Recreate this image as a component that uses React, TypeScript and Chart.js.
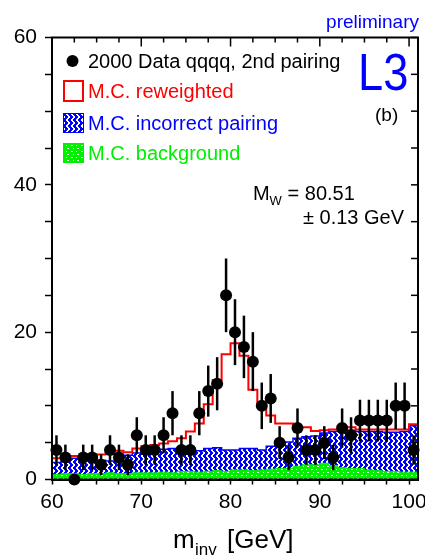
import { useEffect, useRef } from 'react';
import { Chart, registerables } from 'chart.js';

Chart.register(...registerables);

const FONT = "'Liberation Sans', Arial, Helvetica, sans-serif";

// 1 GeV bins: lower edge of each bin, and the upper limit of the last one
const binLowEdges = [
  60, 61, 62, 63, 64, 65, 66, 67, 68, 69, 70, 71, 72, 73, 74, 75, 76, 77, 78, 79,
  80, 81, 82, 83, 84, 85, 86, 87, 88, 89, 90, 91, 92, 93, 94, 95, 96, 97, 98, 99, 100,
];
const binUpperLimit = 101;

// 2000 data, qqqq channel, 2nd pairing: bin centres and event counts
const dataMass = [
  60.5, 61.5, 62.5, 63.5, 64.5, 65.5, 66.5, 67.5, 68.5, 69.5, 70.5, 71.5, 72.5, 73.5,
  74.5, 75.5, 76.5, 77.5, 78.5, 79.5, 80.5, 81.5, 82.5, 83.5, 84.5, 85.5, 86.5, 87.5,
  88.5, 89.5, 90.5, 91.5, 92.5, 93.5, 94.5, 95.5, 96.5, 97.5, 98.5, 99.5, 100.5,
];
const dataEvents = [
  4, 3, 0, 3, 3, 2, 4, 3, 2, 6, 4, 4, 6, 9, 4, 4, 9, 12, 13, 25, 20, 18, 16, 10, 11,
  5, 3, 7, 4, 4, 5, 3, 7, 6, 8, 8, 8, 8, 10, 10, 4,
];

// Monte Carlo expectations per bin (incorrect pairing is stacked on the background)
const mcReweighted = [
  2.9, 3.1, 3.2, 3.2, 3.3, 3.4, 3.6, 3.9, 3.7, 4.2, 4.5, 4.7, 4.9, 5.2, 5.6, 6.5, 7.6,
  10.2, 13.5, 17.0, 18.5, 16.8, 12.2, 10.0, 8.7, 7.6, 7.6, 7.2, 7.1, 6.6, 6.7, 6.8, 7.2,
  7.1, 6.8, 6.8, 6.8, 6.8, 6.8, 6.8, 7.5,
];
const mcIncorrectPairing = [
  2.3, 2.4, 2.9, 2.9, 2.6, 2.6, 2.5, 2.4, 3.3, 3.6, 3.9, 4.0, 4.1, 4.2, 4.0, 3.8, 3.9,
  4.2, 4.3, 4.0, 4.0, 4.2, 4.2, 4.0, 4.5, 5.0, 5.1, 5.6, 5.8, 5.9, 6.3, 6.5, 6.7, 6.7,
  6.5, 6.5, 6.5, 6.4, 6.4, 6.5, 7.3,
];
const mcBackground = [
  0.7, 0.8, 0.8, 0.7, 0.8, 0.8, 0.9, 0.8, 0.8, 0.9, 0.9, 0.9, 1.0, 0.9, 1.1, 1.1, 1.0,
  1.1, 1.2, 1.1, 1.3, 1.3, 1.2, 1.3, 1.4, 1.5, 1.5, 1.8, 2.0, 2.0, 2.2, 1.9, 1.6, 1.5,
  1.5, 1.3, 1.2, 1.1, 1.1, 1.0, 1.0,
];

// Axis ticks
const xTickValues = [60, 62.5, 65, 67.5, 70, 72.5, 75, 77.5, 80, 82.5, 85, 87.5, 90, 92.5, 95, 97.5, 100];
const xLabelValues = [60, 70, 80, 90, 100];
const yTickValues = [0, 5, 10, 15, 20, 25, 30, 35, 40, 45, 50, 55, 60];
const yLabelValues = [0, 20, 40, 60];

const legendEntries = [
  { kind: 'marker', text: '2000 Data qqqq, 2nd pairing', color: '#000000' },
  { kind: 'outline', text: 'M.C. reweighted', color: '#ff0000' },
  { kind: 'hatch', text: 'M.C. incorrect pairing', color: '#0000ff' },
  { kind: 'dots', text: 'M.C. background', color: '#00ee00' },
];

function stepPoints(values: number[]) {
  const pts = [{ x: binLowEdges[0], y: 0 }];
  values.forEach((v, i) => pts.push({ x: binLowEdges[i], y: v }));
  pts.push({ x: binUpperLimit, y: values[values.length - 1] });
  pts.push({ x: binUpperLimit, y: 0 });
  return pts;
}

// blue fill with white vertical zig-zag hatching
function makeHatch(ctx: CanvasRenderingContext2D) {
  const c = document.createElement('canvas');
  c.width = 5;
  c.height = 6;
  const g = c.getContext('2d')!;
  g.fillStyle = '#0000ff';
  g.fillRect(0, 0, 5, 6);
  g.fillStyle = '#ffffff';
  const offs = [0, 1, 2, 2, 1, 0];
  offs.forEach((o, r) => g.fillRect(o + 1, r, 2, 1));
  return ctx.createPattern(c, 'repeat')!;
}

// green fill with sparse white dashes
function makeDots(ctx: CanvasRenderingContext2D) {
  const c = document.createElement('canvas');
  c.width = 10;
  c.height = 6;
  const g = c.getContext('2d')!;
  g.fillStyle = '#00f000';
  g.fillRect(0, 0, 10, 6);
  g.fillStyle = '#ffffff';
  g.fillRect(1, 1, 2, 1);
  g.fillRect(6, 1, 1, 1);
  g.fillRect(3, 4, 1, 1);
  g.fillRect(7, 4, 2, 1);
  return ctx.createPattern(c, 'repeat')!;
}

export default function App() {
  const ref = useRef<HTMLCanvasElement>(null);

  useEffect(() => {
    document.body.style.margin = '0';
    const canvas = ref.current!;
    const ctx0 = canvas.getContext('2d')!;
    const hatch = makeHatch(ctx0);
    const dots = makeDots(ctx0);

    const errorBars = {
      id: 'errorBars',
      afterDatasetsDraw(chart: any) {
        const { ctx } = chart;
        const xs = chart.scales.x;
        const ys = chart.scales.y;
        ctx.save();
        ctx.strokeStyle = '#000';
        ctx.lineWidth = 2.5;
        dataMass.forEach((m, i) => {
          const n = dataEvents[i];
          if (n <= 0) return;
          const e = Math.sqrt(n);
          const px = xs.getPixelForValue(m);
          ctx.beginPath();
          ctx.moveTo(px, ys.getPixelForValue(n + e));
          ctx.lineTo(px, ys.getPixelForValue(Math.max(0, n - e)));
          ctx.stroke();
        });
        ctx.restore();
      },
    };

    const decorations = {
      id: 'decorations',
      afterDraw(chart: any) {
        const { ctx, chartArea: a } = chart;
        const xs = chart.scales.x;
        const ys = chart.scales.y;
        ctx.save();
        // frame
        ctx.strokeStyle = '#000';
        ctx.lineWidth = 2;
        ctx.strokeRect(a.left, a.top, a.right - a.left, a.bottom - a.top);
        // inward ticks on top and right
        ctx.lineWidth = 1.5;
        xTickValues.forEach((v) => {
          const px = xs.getPixelForValue(v);
          const len = xLabelValues.includes(v) ? 9 : 5;
          ctx.beginPath();
          ctx.moveTo(px, a.top);
          ctx.lineTo(px, a.top + len);
          ctx.stroke();
        });
        yTickValues.forEach((v) => {
          const py = ys.getPixelForValue(v);
          ctx.beginPath();
          ctx.moveTo(a.right, py);
          ctx.lineTo(a.right - 7, py);
          ctx.stroke();
        });

        // legend
        ctx.textBaseline = 'alphabetic';
        ctx.textAlign = 'left';
        ctx.font = `20px ${FONT}`;
        const baselines = [68, 98, 130, 160];
        legendEntries.forEach((en, i) => {
          const b = baselines[i];
          const cy = b - 7;
          if (en.kind === 'marker') {
            ctx.fillStyle = '#000';
            ctx.beginPath();
            ctx.arc(72.5, cy, 6, 0, Math.PI * 2);
            ctx.fill();
          } else if (en.kind === 'outline') {
            ctx.strokeStyle = en.color;
            ctx.lineWidth = 2;
            ctx.strokeRect(64, cy - 10, 19, 20);
          } else {
            ctx.fillStyle = en.kind === 'hatch' ? hatch : dots;
            ctx.fillRect(63, cy - 10, 21, 20);
            ctx.strokeStyle = en.color;
            ctx.lineWidth = 1;
            ctx.strokeRect(63.5, cy - 9.5, 20, 19);
          }
          ctx.fillStyle = en.color;
          ctx.fillText(en.text, 88, b);
        });

        // labels
        ctx.fillStyle = '#0000ff';
        ctx.font = `19px ${FONT}`;
        ctx.textAlign = 'right';
        ctx.fillText('preliminary', 419, 28);
        ctx.textAlign = 'left';
        ctx.save();
        ctx.translate(358, 90);
        ctx.scale(0.87, 1);
        ctx.font = `52px ${FONT}`;
        ctx.fillText('L3', 0, 0);
        ctx.restore();

        ctx.fillStyle = '#000';
        ctx.font = `19px ${FONT}`;
        ctx.fillText('(b)', 375, 121);

        ctx.font = `20px ${FONT}`;
        ctx.fillText('M', 253, 200);
        ctx.font = `13px ${FONT}`;
        ctx.fillText('W', 269.5, 205);
        ctx.font = `20px ${FONT}`;
        ctx.fillText(' = 80.51', 282, 200);
        ctx.fillText('\u00b1 0.13 GeV', 303, 224);

        // x axis title
        ctx.font = `26px ${FONT}`;
        ctx.fillText('m', 173, 548);
        ctx.font = `17px ${FONT}`;
        ctx.fillText('inv', 195, 555);
        ctx.font = `26px ${FONT}`;
        ctx.fillText('[GeV]', 227, 548);
        ctx.restore();
      },
    };

    const chart = new Chart(canvas, {
      type: 'line',
      data: {
        datasets: [
          {
            label: '2000 Data qqqq, 2nd pairing',
            data: dataMass.map((m, i) => ({ x: m, y: dataEvents[i] })),
            showLine: false,
            pointRadius: 6,
            pointBackgroundColor: '#000',
            pointBorderColor: '#000',
            pointBorderWidth: 0,
            order: 0,
            clip: false,
          },
          {
            label: 'M.C. reweighted',
            data: stepPoints(mcReweighted),
            stepped: 'before',
            borderColor: '#ff0000',
            borderWidth: 2,
            pointRadius: 0,
            fill: false,
            order: 1,
          },
          {
            label: 'M.C. background',
            data: stepPoints(mcBackground),
            stepped: 'before',
            borderColor: '#00f000',
            borderWidth: 1,
            backgroundColor: dots,
            pointRadius: 0,
            fill: 'origin',
            order: 2,
          },
          {
            label: 'M.C. incorrect pairing',
            data: stepPoints(mcIncorrectPairing),
            stepped: 'before',
            borderColor: '#0000ff',
            borderWidth: 1.5,
            backgroundColor: hatch,
            pointRadius: 0,
            fill: 'origin',
            order: 3,
          },
        ],
      } as any,
      options: {
        responsive: false,
        animation: false,
        devicePixelRatio: 1,
        layout: { padding: { left: 0, top: 37.5, right: 7, bottom: 0 } },
        plugins: { legend: { display: false }, tooltip: { enabled: false } },
        scales: {
          x: {
            type: 'linear',
            min: 60,
            max: binUpperLimit,
            afterBuildTicks: (s: any) => {
              s.ticks = xTickValues.map((v) => ({ value: v }));
            },
            afterFit: (s: any) => {
              s.height = 76.5;
              s.paddingLeft = 0;
              s.paddingRight = 0;
            },
            ticks: {
              autoSkip: false,
              maxRotation: 0,
              minRotation: 0,
              padding: 5,
              color: '#000',
              font: { size: 21, family: FONT },
              callback: (v: any) => (xLabelValues.includes(Number(v)) ? String(v) : ''),
            },
            grid: { drawOnChartArea: false, tickLength: 5, tickWidth: 1.5, tickColor: '#000' },
            border: { display: true, color: '#000', width: 2 },
          },
          y: {
            type: 'linear',
            min: 0,
            max: 60,
            afterBuildTicks: (s: any) => {
              s.ticks = yTickValues.map((v) => ({ value: v }));
            },
            afterFit: (s: any) => {
              s.width = 52;
              s.paddingTop = 0;
              s.paddingBottom = 0;
            },
            ticks: {
              autoSkip: false,
              padding: 8,
              color: '#000',
              font: { size: 21, family: FONT },
              callback: (v: any) => (yLabelValues.includes(Number(v)) ? String(v) : ''),
            },
            grid: { drawOnChartArea: false, tickLength: 7, tickWidth: 1.5, tickColor: '#000' },
            border: { display: true, color: '#000', width: 2 },
          },
        },
      } as any,
      plugins: [errorBars, decorations],
    });

    return () => chart.destroy();
  }, []);

  return <canvas ref={ref} width={425} height={556} style={{ display: 'block' }} />;
}
